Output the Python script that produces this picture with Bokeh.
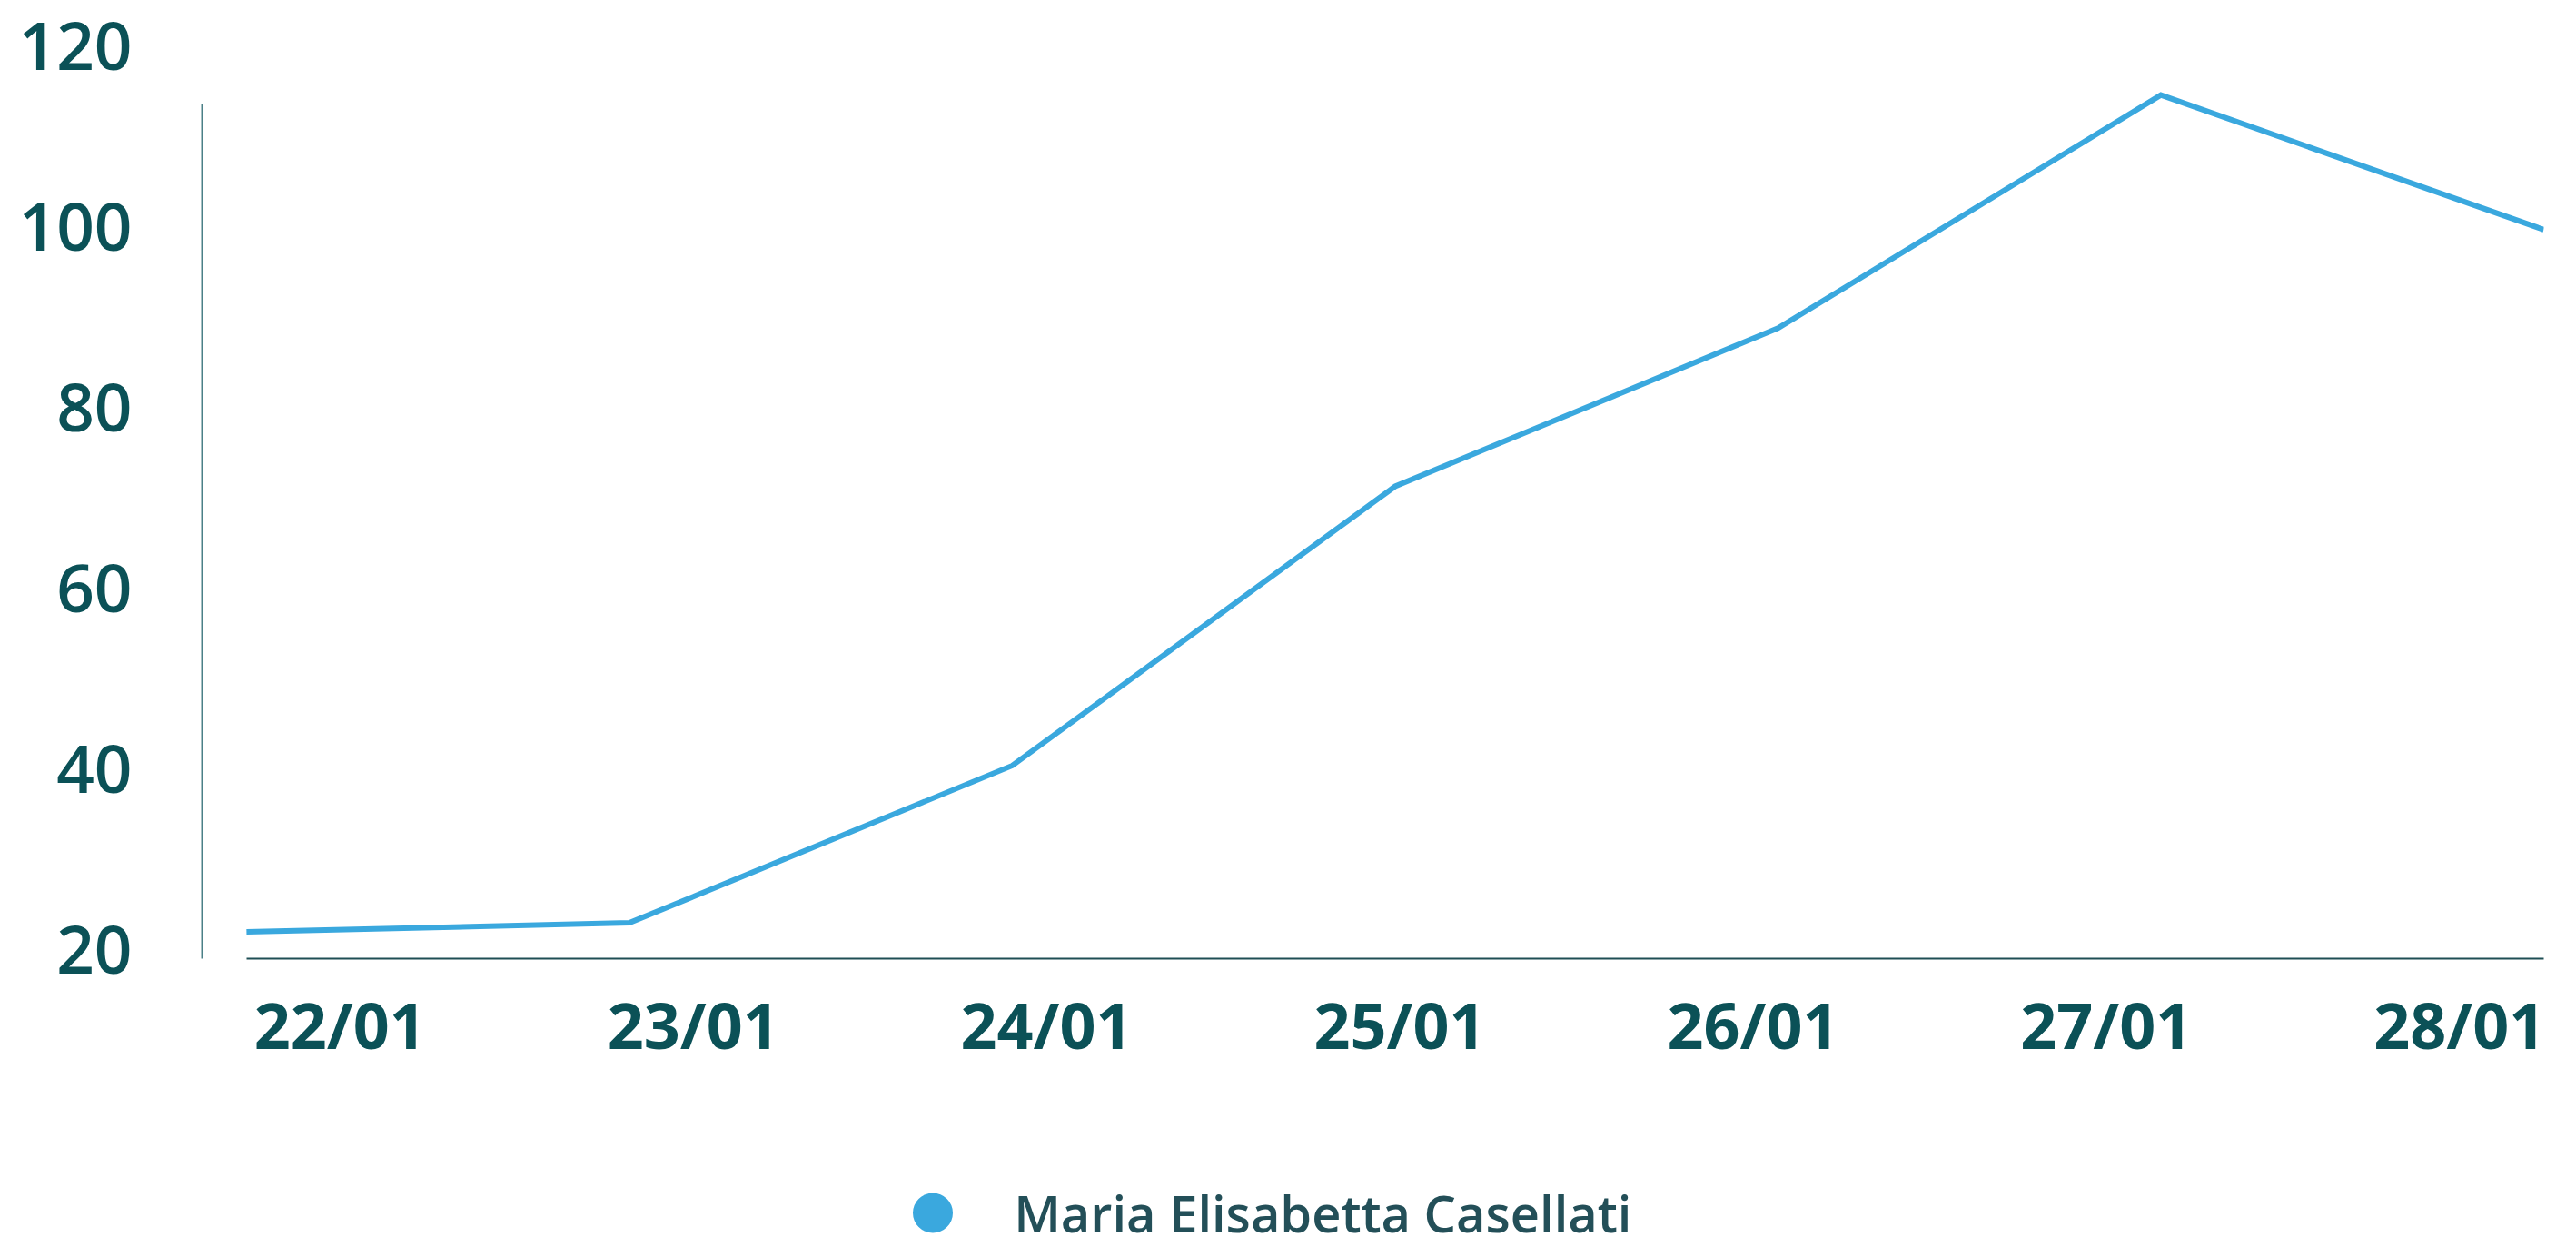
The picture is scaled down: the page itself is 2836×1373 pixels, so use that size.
from bokeh.plotting import figure
from bokeh.models import (Range1d, FixedTicker, LinearAxis, Legend, LegendItem)
from bokeh.layouts import column
from bokeh.embed import file_html
from bokeh.resources import INLINE
import numpy as np

# ---- data ----
dates = ["22/01", "23/01", "24/01", "25/01", "26/01", "27/01", "28/01"]
mentions = [22, 23, 40.4, 71.3, 88.8, 114.6, 99.7]
y_ticks = [20, 40, 60, 80, 100, 120]
series_name = "Maria Elisabetta Casellati"

TEXT = "#0b5157"
FONT = "Open Sans"
FONT_SB = "'Open Sans SemiBold', 'Open Sans'"
LINE = "#3aa8de"
W = 2820

x = list(range(len(dates)))
n = len(dates) - 1

p = figure(width=W, height=1220, output_backend="svg", toolbar_location=None,
           x_range=Range1d(-0.116, n), y_range=Range1d(19.04, 121.04),
           min_border_left=222, min_border_right=20, min_border_top=40,
           min_border_bottom=165)
p.outline_line_color = None
p.xgrid.visible = False
p.ygrid.visible = False

# line
p.line(x, mentions, line_width=6, line_color=LINE, line_join="miter")

# x axis: labels spread evenly from just inside the left to the right end
label_pos = [round(v, 4) for v in np.linspace(0.244, n - 0.22, len(dates))]
xa = p.xaxis[0]
xa.ticker = FixedTicker(ticks=label_pos)
xa.major_label_overrides = {pos: d for pos, d in zip(label_pos, dates)}
xa.bounds = (0, n)
xa.axis_line_color = "#1f4f55"
xa.axis_line_width = 2
xa.major_tick_line_color = None
xa.minor_tick_line_color = None
xa.major_label_text_font = FONT
xa.major_label_text_font_style = "bold"
xa.major_label_text_font_size = "70px"
xa.major_label_text_color = TEXT
xa.major_label_standoff = 18

# y axis line (inner), bounded, no labels
ya = p.yaxis[0]
ya.ticker = FixedTicker(ticks=[])
ya.bounds = (19.04, 113.6)
ya.axis_line_color = "#4b8087"
ya.axis_line_width = 2
ya.major_tick_line_color = None
ya.minor_tick_line_color = None
ya.major_label_standoff = 0

# y labels axis (outer)
ya2 = LinearAxis(ticker=FixedTicker(ticks=y_ticks))
ya2.axis_line_color = None
ya2.major_tick_line_color = None
ya2.minor_tick_line_color = None
ya2.major_label_text_font = FONT_SB
ya2.major_label_text_font_size = "73px"
ya2.major_label_text_color = TEXT
ya2.major_label_standoff = 71
p.add_layout(ya2, "left")

# ---- legend strip ----
lg = figure(width=W, height=153, output_backend="svg", toolbar_location=None,
            x_range=Range1d(0, 1), y_range=Range1d(0, 1),
            x_axis_location=None, y_axis_location=None, min_border=0)
lg.outline_line_color = None
lg.xgrid.visible = False
lg.ygrid.visible = False
# tiny ellipses (invisible) only provide the round legend swatch
legend_r = lg.ellipse(x, mentions, width=0.001, height=0.001,
                      width_units="screen", height_units="screen",
                      fill_color=LINE, line_alpha=0)
legend = Legend(items=[LegendItem(label=series_name, renderers=[legend_r])],
                location=(777.2, 0), orientation="horizontal",
                glyph_width=55, glyph_height=76, label_height=76,
                label_standoff=62, padding=0, margin=0,
                border_line_alpha=0, background_fill_alpha=0,
                label_text_font=FONT_SB, label_text_font_size="56px",
                label_text_color="#234f58")
lg.add_layout(legend, "center")

open("out.html", "w").write(file_html(column(p, lg, spacing=0), INLINE))
